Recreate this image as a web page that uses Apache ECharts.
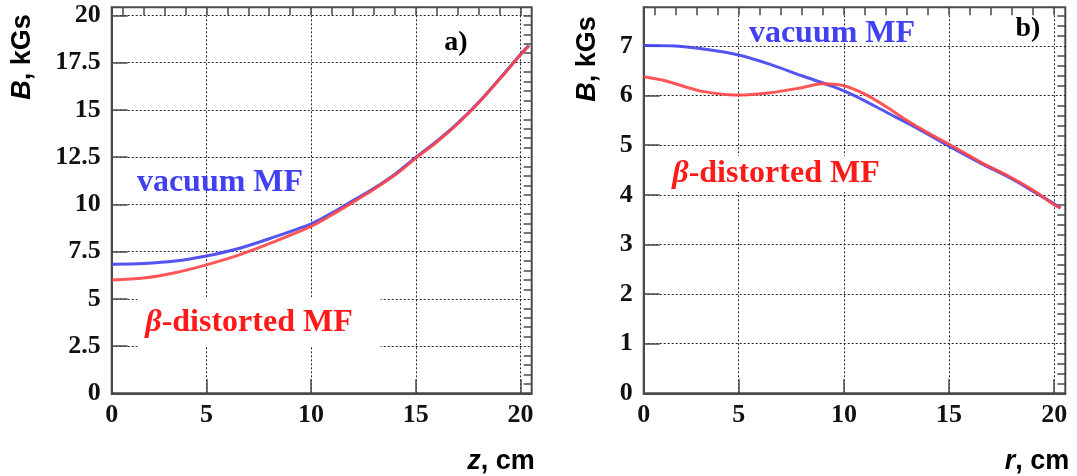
<!DOCTYPE html>
<html>
<head>
<meta charset="utf-8">
<script src="https://cdn.jsdelivr.net/npm/echarts@6/dist/echarts.min.js"></script>
<style>html,body{margin:0;padding:0;background:#fff}#c{width:1077px;height:476px}</style>
</head>
<body>
<div id="c"></div>
<script>
// ---- data: panel a) B(z) ----
const zVacuum = [0.5, 2, 3.5, 5, 6.5, 8, 10, 11, 12, 13, 14, 15, 16, 17, 18, 19, 20, 20.4];
const bVacuumZ = [6.83, 6.87, 7.0, 7.27, 7.65, 8.18, 8.97, 9.55, 10.2, 10.85, 11.6, 12.5, 13.35, 14.3, 15.4, 16.65, 17.95, 18.42];
const zDistorted = [0.5, 2, 3.5, 5, 6.5, 8, 10, 11, 12, 13, 14, 15, 16, 17, 18, 19, 20, 20.4];
const bDistortedZ = [6.0, 6.1, 6.38, 6.8, 7.3, 7.92, 8.83, 9.45, 10.12, 10.8, 11.55, 12.45, 13.3, 14.27, 15.38, 16.63, 17.92, 18.38];
// ---- data: panel b) B(r) ----
const rVacuum = [0.5, 2, 3.5, 5, 6.5, 8, 9.5, 10.5, 12, 13.5, 15, 16.5, 18, 19, 20, 20.3];
const bVacuumR = [7.01, 7.0, 6.93, 6.82, 6.63, 6.4, 6.18, 6.0, 5.67, 5.34, 4.98, 4.64, 4.32, 4.07, 3.82, 3.73];
const rDistorted = [0.5, 1.5, 3, 4, 5, 6.5, 8, 9, 10, 11, 12, 13, 14, 15, 16.5, 18, 19, 20, 20.3];
const bDistortedR = [6.38, 6.3, 6.11, 6.04, 6.01, 6.06, 6.16, 6.24, 6.2, 6.03, 5.78, 5.5, 5.25, 5.02, 4.66, 4.34, 4.09, 3.8, 3.74];
// ---- ticks & labels ----
const xMajorTicks = [5, 10, 15, 20];
const xMinorTicks = [1,2,3,4,5,6,7,8,9,10,11,12,13,14,15,16,17,18,19,20];
const leftYMajor = [0, 2.5, 5, 7.5, 10, 12.5, 15, 17.5, 20];
const leftYMinor = [0.5,1,1.5,2,3,3.5,4,4.5,5.5,6,6.5,7,8,8.5,9,9.5,10.5,11,11.5,12,13,13.5,14,14.5,15.5,16,16.5,17,18,18.5,19,19.5,20];
const rightYMajor = [0, 1, 2, 3, 4, 5, 6, 7];
const rightYMinor = [0.2,0.4,0.6,0.8,1.2,1.4,1.6,1.8,2.2,2.4,2.6,2.8,3.2,3.4,3.6,3.8,4.2,4.4,4.6,4.8,5.2,5.4,5.6,5.8,6.2,6.4,6.6,6.8,7.2,7.4,7.6];
const xRange = [0.48, 20.53];
const leftYRange = [0, 20.43];
const rightYRange = [0, 7.78];
const xZeroLabel = '0';
const seriesNames = ['vacuum MF', 'β-distorted MF'];
const panelTags = ['a)', 'b)'];
const axisTitles = { y: 'B', yUnit: ', kGs', xa: 'z', xb: 'r', xUnit: ', cm' };

const BLUE = '#4141f0';
const RED = '#ff4545';
const FRAME = '#4a4a4a';
const serif = '"Liberation Serif", "Times New Roman", serif';
const sans = '"Liberation Sans", Arial, sans-serif';

function zip(a, b) { return a.map((v, i) => [v, b[i]]); }

const labelStyle = { fontFamily: serif, fontWeight: 'bold', fontSize: 26, color: '#111' };
const gridLine = { show: true, lineStyle: { color: '#222', type: [2, 2], width: 1 } };

function xAxes(gridIndex) {
  return [
    {
      type: 'value', gridIndex, min: xRange[0], max: xRange[1],
      axisLine: { show: true, onZero: false, lineStyle: { color: FRAME, width: 2 } },
      axisTick: { show: true, inside: true, length: 14, customValues: xMajorTicks, lineStyle: { color: FRAME, width: 1.5 } },
      axisLabel: Object.assign({ margin: 9, showMinLabel: true, customValues: [xRange[0]].concat(xMajorTicks),
        formatter: v => (v < 1 ? xZeroLabel : String(v)) }, labelStyle),
      splitLine: gridLine
    },
    {
      type: 'value', gridIndex, min: xRange[0], max: xRange[1],
      axisLine: { show: false, onZero: false },
      axisTick: { show: true, inside: true, length: 8, customValues: xMinorTicks, lineStyle: { color: FRAME, width: 1.5 } },
      axisLabel: { show: false },
      splitLine: { show: false }
    }
  ];
}
function yAxes(gridIndex, range, major, minor) {
  return [
    {
      type: 'value', gridIndex, min: range[0], max: range[1],
      axisLine: { show: true, onZero: false, lineStyle: { color: FRAME, width: 2 } },
      axisTick: { show: true, inside: true, length: 16, customValues: major, lineStyle: { color: FRAME, width: 1.5 } },
      axisLabel: Object.assign({ margin: 11, customValues: major }, labelStyle),
      splitLine: gridLine
    },
    {
      type: 'value', gridIndex, min: range[0], max: range[1],
      axisLine: { show: false, onZero: false },
      axisTick: { show: true, inside: true, length: 8, customValues: minor, lineStyle: { color: FRAME, width: 1.5 } },
      axisLabel: { show: false },
      splitLine: { show: false }
    }
  ];
}

function line(name, data, color, xi, yi) {
  return { type: 'line', name, data, xAxisIndex: xi, yAxisIndex: yi, smooth: 0.3, showSymbol: false,
    lineStyle: { color, width: 3, opacity: 0.9 }, itemStyle: { color }, z: 5 };
}

function richTitle(x, y, sym, unit, rot) {
  return { type: 'text', x, y, rotation: rot || 0, z: 100,
    style: { text: '{i|' + sym + '}{n|' + unit + '}', align: 'center', verticalAlign: 'middle',
      rich: { i: { fontFamily: sans, fontWeight: 'bold', fontStyle: 'italic', fontSize: 27, fill: '#000' },
              n: { fontFamily: sans, fontWeight: 'bold', fontSize: 27, fill: '#000' } } } };
}
function betaLabel(x, y, pad) {
  const parts = seriesNames[1].split('-');
  return { type: 'text', x, y, z: 100,
    style: { text: '{g|' + parts[0] + '}{n|-' + parts.slice(1).join('-') + '}', align: 'center', verticalAlign: 'middle',
      backgroundColor: '#fff', padding: pad,
      rich: { g: { fontFamily: serif, fontWeight: 'bold', fontStyle: 'italic', fontSize: 32, fill: '#ff1a1a' },
              n: { fontFamily: serif, fontWeight: 'bold', fontSize: 32, fill: '#ff1a1a' } } } };
}
function plainText(x, y, text, size, color) {
  return { type: 'text', x, y, z: 100,
    style: { text, align: 'center', verticalAlign: 'middle', fontFamily: serif, fontWeight: 'bold', fontSize: size, fill: color } };
}

const option = {
  animation: false,
  backgroundColor: '#fff',
  grid: [
    { left: 111.7, top: 7.3, width: 420, height: 386, show: true, borderColor: FRAME, borderWidth: 2, backgroundColor: 'transparent' },
    { left: 643.7, top: 7.3, width: 421.6, height: 386, show: true, borderColor: FRAME, borderWidth: 2, backgroundColor: 'transparent' }
  ],
  xAxis: xAxes(0).concat(xAxes(1)),
  yAxis: yAxes(0, leftYRange, leftYMajor, leftYMinor).concat(yAxes(1, rightYRange, rightYMajor, rightYMinor)),
  series: [
    line(seriesNames[0], zip(zVacuum, bVacuumZ), BLUE, 0, 0),
    line(seriesNames[1], zip(zDistorted, bDistortedZ), RED, 0, 0),
    line(seriesNames[0], zip(rVacuum, bVacuumR), BLUE, 2, 2),
    line(seriesNames[1], zip(rDistorted, bDistortedR), RED, 2, 2)
  ],
  graphic: [
    richTitle(23, 57, axisTitles.y, axisTitles.yUnit, Math.PI / 2),
    richTitle(588, 59, axisTitles.y, axisTitles.yUnit, Math.PI / 2),
    richTitle(501, 462, axisTitles.xa, axisTitles.xUnit),
    richTitle(1037, 462, axisTitles.xb, axisTitles.xUnit),
    plainText(456, 43, panelTags[0], 28, '#000'),
    plainText(1028, 29, panelTags[1], 28, '#000'),
    plainText(220, 183, seriesNames[0], 32, BLUE),
    plainText(832, 34, seriesNames[0], 32, BLUE),
    betaLabel(259, 322, [10, 28, 8, 8]),
    betaLabel(776, 174, [2, 4, 2, 4])
  ]
};

const chart = echarts.init(document.getElementById('c'), null, { renderer: 'canvas' });
chart.setOption(option);
</script>
</body>
</html>
